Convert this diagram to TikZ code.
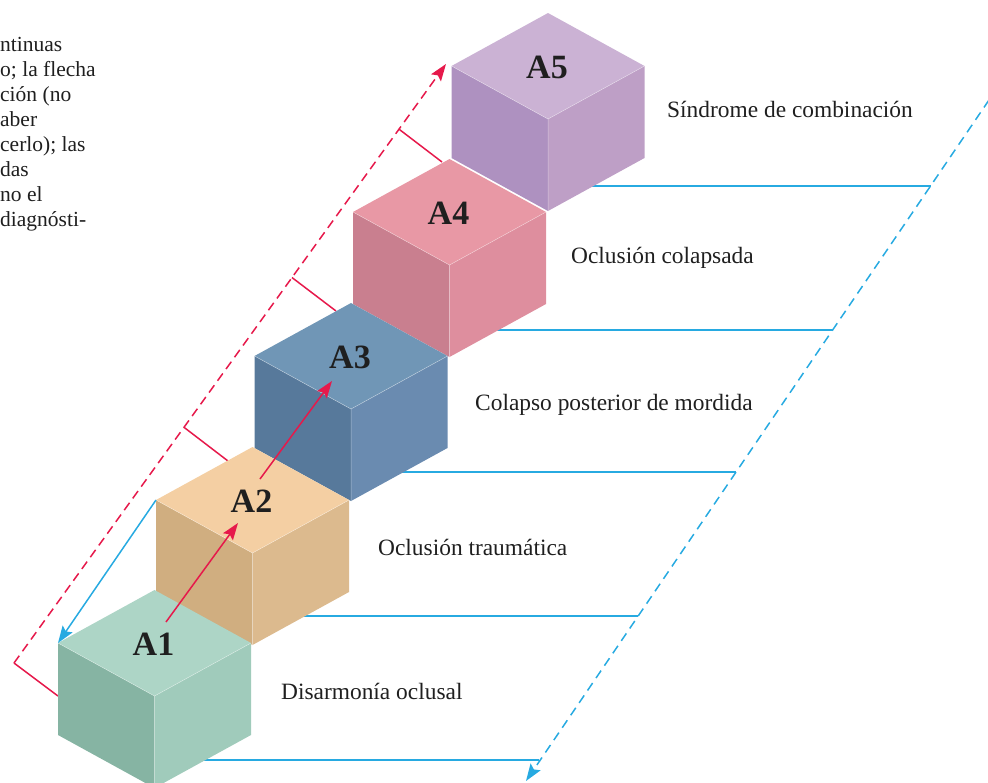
\documentclass[tikz,border=0pt]{standalone}
\usepackage{fontspec}
\setmainfont{Liberation Serif}
\usetikzlibrary{arrows.meta,calc}
\definecolor{redc}{HTML}{E6194B}
\definecolor{bluec}{HTML}{27AAE1}
\definecolor{aTop}{HTML}{ADD5C6}\definecolor{aLeft}{HTML}{86B4A3}\definecolor{aRight}{HTML}{A0CBBB}
\definecolor{bTop}{HTML}{F4CFA3}\definecolor{bLeft}{HTML}{D0AE80}\definecolor{bRight}{HTML}{DCBA8E}
\definecolor{cTop}{HTML}{7096B6}\definecolor{cLeft}{HTML}{57799B}\definecolor{cRight}{HTML}{6A8BB0}
\definecolor{dTop}{HTML}{E898A5}\definecolor{dLeft}{HTML}{C97F8F}\definecolor{dRight}{HTML}{DE8E9E}
\definecolor{eTop}{HTML}{CBB2D4}\definecolor{eLeft}{HTML}{AE91C0}\definecolor{eRight}{HTML}{BE9FC6}
\newcommand{\drawcube}[6]{%
  \coordinate (#1L) at (#2,#3);
  \coordinate (#1T) at (#2+96.5,#3-53);
  \coordinate (#1R) at (#2+193,#3);
  \coordinate (#1F) at (#2+96.5,#3+53);
  \coordinate (#1BL) at (#2,#3+92);
  \coordinate (#1BF) at (#2+96.5,#3+145);
  \coordinate (#1BR) at (#2+193,#3+92);
  \fill[#5] (#1L)--(#1F)--(#1BF)--(#1BL)--cycle;
  \fill[#6] (#1F)--(#1R)--(#1BR)--(#1BF)--cycle;
  \fill[#4] (#1L)--(#1T)--(#1R)--(#1F)--cycle;
  \draw[cubeedge] (#1L)--(#1F)--(#1R) (#1F)--(#1BF);
  \node[cubelabel] (#1) at ($(#1L)!0.5!(#1R)+(-1,1)$) {#1};
}
\tikzset{
  cubeedge/.style={white,opacity=0.45,line width=0.5pt},
  cubelabel/.style={font=\fontsize{34}{36}\selectfont\bfseries,text=black!88,inner sep=0pt},
  caption/.style={font=\fontsize{23.4}{26}\selectfont,text=black!88,anchor=base west,inner sep=0pt},
  sidetext/.style={font=\fontsize{21.5}{25}\selectfont,text=black!88,anchor=base west,inner sep=0pt},
  reddash/.style={redc,line width=1.5pt,dash pattern=on 9pt off 5.5pt},
  redline/.style={redc,line width=1.5pt},
  bluedash/.style={bluec,line width=1.5pt,dash pattern=on 9pt off 6pt},
  blueline/.style={bluec,line width=1.5pt},
  tip/.style={-{Stealth[length=17pt,width=12pt,inset=3pt]}},
}
\begin{document}
\begin{tikzpicture}[x=1pt,y=-1pt]
\useasboundingbox (0,0) rectangle (988,782);
% side text fragments
\node[sidetext] (s1) at (0,51) {ntinuas};
\node[sidetext] (s2) at (0,76) {o; la flecha};
\node[sidetext] (s3) at (0,101) {ción (no};
\node[sidetext] (s4) at (0,126) {aber};
\node[sidetext] (s5) at (0,151) {cerlo); las};
\node[sidetext] (s6) at (0,176) {das};
\node[sidetext] (s7) at (0,201) {no el};
\node[sidetext] (s8) at (0,226) {diagnósti-};
% red dashed line with ticks
\coordinate (rb) at (14,663);
\coordinate (rt) at (446,64);
\draw[reddash,tip] (rb) -- (rt);
\coordinate (r2) at ($(rb)!0.3935!(rt)$);
\coordinate (r3) at ($(rb)!0.6435!(rt)$);
\coordinate (r4) at ($(rb)!0.8912!(rt)$);
\coordinate (k1) at (58,696);
\coordinate (k2) at (228,461);
\coordinate (k3) at (336,311);
\coordinate (k4) at (442,162);
\draw[redline] (rb) -- (k1);
\draw[redline] (r2) -- (k2);
\draw[redline] (r3) -- (k3);
\draw[redline] (r4) -- (k4);
% blue dashed line and horizontal lines
\coordinate (bt) at (989,100);
\coordinate (bb) at (526,781);
\draw[bluedash,tip] (bt) -- (bb);
\coordinate (h1s) at (170,760);  \coordinate (h1e) at (539.2,760);
\coordinate (h2s) at (268,616);  \coordinate (h2e) at (637.5,616);
\coordinate (h3s) at (366,472);  \coordinate (h3e) at (735.8,472);
\coordinate (h4s) at (464,330);  \coordinate (h4e) at (832.7,330);
\coordinate (h5s) at (562,186);  \coordinate (h5e) at (931,186);
\foreach \i in {1,...,5}{\draw[blueline] (h\i s) -- (h\i e);}
% cubes, back to front
\drawcube{A5}{451.5}{66}{eTop}{eLeft}{eRight}
\drawcube{A4}{353}{212}{dTop}{dLeft}{dRight}
\drawcube{A3}{254.5}{356}{cTop}{cLeft}{cRight}
\drawcube{A2}{156}{500}{bTop}{bLeft}{bRight}
\drawcube{A1}{58}{643}{aTop}{aLeft}{aRight}
% blue solid arrow
\draw[blueline,tip] (A2L) -- (A1L);
% red arrows
\coordinate (p1) at (166,622); \coordinate (q1) at (238,523);
\coordinate (p2) at (260,479); \coordinate (q2) at (332,381);
\draw[redline,tip] (p1) -- (q1);
\draw[redline,tip] (p2) -- (q2);
% captions
\node[caption] (c1) at (281,699) {Disarmonía oclusal};
\node[caption] (c2) at (378,555) {Oclusión traumática};
\node[caption] (c3) at (475,410) {Colapso posterior de mordida};
\node[caption] (c4) at (571,263) {Oclusión colapsada};
\node[caption] (c5) at (667,117) {Síndrome de combinación};
\end{tikzpicture}
\end{document}
